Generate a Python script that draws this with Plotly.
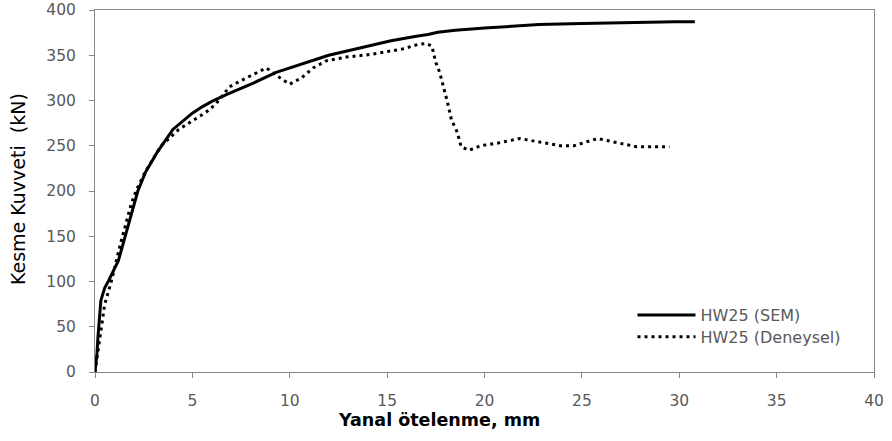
import plotly.graph_objects as go

# Shear force vs lateral drift for wall HW25: SEM model and test result
sem_drift = [0, 0.1, 0.15, 0.3, 0.5, 0.7, 1.2, 1.7, 2.2, 2.6, 3.2, 4.0, 4.5, 5.0,
             5.5, 6.0, 6.8, 8.1, 9.3, 10.0, 11.0, 12.0, 13.6, 15.2, 16.5, 17.1,
             17.6, 18.5, 20.0, 22.8, 25.0, 27.0, 29.8, 30.8]
sem_force = [0, 20, 38, 79, 93, 101, 123, 163, 200, 221, 243, 268, 277, 286,
             293, 299, 307, 319, 331, 336, 343, 350, 358, 366, 371, 373,
             375.5, 377.5, 380, 384, 385, 386, 387, 387]

test_drift = [0, 0.1, 0.26, 0.5, 0.8, 1.3, 1.85, 2.1, 2.6, 3.4, 4.3, 5.0, 5.7,
              6.2, 6.9, 7.5, 8.2, 8.8, 9.5, 10.0, 10.6, 11.2, 11.9, 12.9, 14.2,
              15.8, 16.6, 17.0, 17.3, 17.5, 17.7, 17.9, 18.1, 18.3, 18.6, 18.8,
              19.2, 19.8, 20.7, 21.8, 22.8, 23.9, 24.6, 25.8, 26.9, 27.8, 29.5]
test_force = [0, 15, 38, 75, 97, 141, 185, 200, 222, 250, 268, 278, 287,
              296, 315, 322, 330, 336, 325, 318, 325, 336, 344, 348, 351,
              357, 362, 363, 360, 342, 331, 316, 298, 279, 265, 249,
              245, 250, 253, 258, 254, 250, 250, 258, 253, 249, 249]

x_ticks = [0, 5, 10, 15, 20, 25, 30, 35, 40]
y_ticks = [0, 50, 100, 150, 200, 250, 300, 350, 400]

FONT = "DejaVu Sans"
AXIS_GRAY = "#868686"
TICK_GRAY = "#595959"

fig = go.Figure()
fig.add_trace(go.Scatter(
    x=sem_drift, y=sem_force, mode="lines", name="HW25 (SEM)",
    line=dict(color="black", width=3), legend="legend",
))
fig.add_trace(go.Scatter(
    x=test_drift, y=test_force, mode="lines", name="HW25 (Deneysel)",
    line=dict(color="black", width=3, dash="3px,4px"), legend="legend2",
))

legend_style = dict(
    x=0.69, xanchor="left", yanchor="middle",
    bgcolor="rgba(0,0,0,0)", itemwidth=58,
    font=dict(family=FONT, size=16, color=TICK_GRAY),
)

fig.update_layout(
    width=892, height=441,
    margin=dict(l=95, r=18, t=10, b=69),
    paper_bgcolor="white", plot_bgcolor="white",
    font=dict(family=FONT, size=15.5, color=TICK_GRAY),
    showlegend=True,
    legend=dict(y=0.157, **legend_style),
    legend2=dict(y=0.097, **legend_style),
    xaxis=dict(
        range=[0, 40], tickvals=x_ticks, ticktext=[str(v) for v in x_ticks],
        showgrid=False, zeroline=False, automargin=False,
        showline=True, linecolor=AXIS_GRAY, linewidth=1, mirror=True,
        ticks="outside", ticklen=5, tickcolor=AXIS_GRAY,
        tickfont=dict(family=FONT, size=15.5, color=TICK_GRAY),
        ticklabelstandoff=9, ticklabeloverflow="allow",
    ),
    yaxis=dict(
        range=[0, 400], tickvals=y_ticks, ticktext=[str(v) for v in y_ticks],
        showgrid=False, zeroline=False, automargin=False,
        showline=True, linecolor=AXIS_GRAY, linewidth=1, mirror=True,
        ticks="outside", ticklen=5, tickcolor=AXIS_GRAY,
        tickfont=dict(family=FONT, size=15.5, color=TICK_GRAY),
        ticklabelstandoff=10, ticklabeloverflow="allow",
    ),
    annotations=[
        dict(text="<b>Yanal ötelenme, mm</b>", xref="paper", yref="paper",
             x=0.4416, y=-0.133, xanchor="center", yanchor="middle",
             showarrow=False, font=dict(family=FONT, size=17.5, color="black")),
        dict(text="Kesme Kuvveti  (kN)", xref="paper", yref="paper",
             x=-0.099, y=0.505, xanchor="center", yanchor="middle",
             textangle=-90, showarrow=False,
             font=dict(family=FONT, size=19, color="black")),
    ],
)

fig.write_html("out.html")
